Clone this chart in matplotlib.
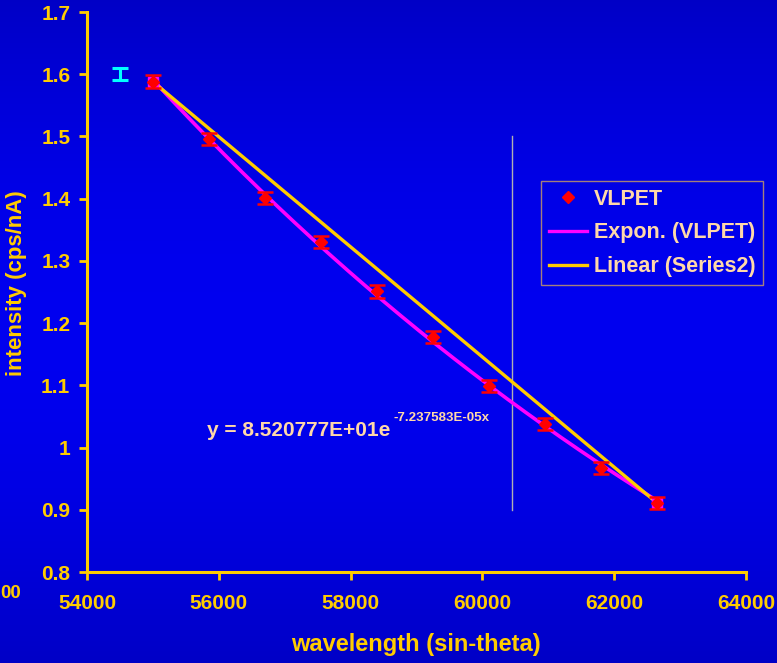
import numpy as np
import matplotlib
matplotlib.use("Agg")
import matplotlib.pyplot as plt
from matplotlib.lines import Line2D

plt.rcParams['font.family'] = ['Liberation Sans', 'DejaVu Sans']
plt.rcParams['font.weight'] = 'bold'

# ---- data ----
wavelength = [55000, 55850, 56700, 57550, 58400, 59250, 60100, 60950, 61800, 62650]
intensity = [1.588, 1.496, 1.401, 1.330, 1.251, 1.178, 1.099, 1.038, 0.967, 0.911]
intensity_err = [0.01] * 10

series2_x = [55000, 62650]
series2_y = [1.588, 0.911]

series3_x = [54500]
series3_y = [1.600]
series3_err = [0.01]

exp_a = 85.20777
exp_b = -7.237583e-05

vline_x = 60450
vline_y = [0.9, 1.5]

xticks = [54000, 56000, 58000, 60000, 62000, 64000]
yticks = [0.8, 0.9, 1.0, 1.1, 1.2, 1.3, 1.4, 1.5, 1.6, 1.7]

GOLD = '#FFCC00'
PEACH = '#FFD8A8'
MAGENTA = '#FF00FF'
RED = '#FF0000'

fig = plt.figure(figsize=(7.77, 6.63), dpi=100)

# background gradient
bg = fig.add_axes([0, 0, 1, 1], zorder=-10)
t = np.linspace(0, 1, 300)
b = 0.78 + 0.16 * np.sin(np.pi * t)
img = np.zeros((300, 2, 3))
img[:, :, 2] = b[:, None]
bg.imshow(img, aspect='auto', extent=[0, 1, 0, 1])
bg.axis('off')

ax = fig.add_axes([87/777, 1 - 572/663, (746 - 87)/777, (572 - 12)/663])
ax.set_facecolor('none')

# exponential trendline
xs = np.linspace(wavelength[0], wavelength[-1], 200)
ax.plot(xs, exp_a * np.exp(exp_b * xs), color=MAGENTA, lw=2.6, zorder=3)
# linear trendline through series2
coef = np.polyfit(series2_x, series2_y, 1)
ax.plot(series2_x, np.polyval(coef, series2_x), color=GOLD, lw=2.4, zorder=4)

# series2 markers
ax.plot(series2_x, series2_y, linestyle='none', marker='s', ms=7, color=MAGENTA, zorder=5)

# data with error bars
ax.errorbar(wavelength, intensity, yerr=intensity_err, fmt='D', color=RED, ms=6,
            ecolor=RED, elinewidth=1.5, capsize=6, capthick=1.8, zorder=6)

# series3 error bar
ax.errorbar(series3_x, series3_y, yerr=series3_err, fmt='none', ecolor='#00FFFF',
            elinewidth=2.2, capsize=6, capthick=2.2, zorder=6)

# vertical line
ax.plot([vline_x, vline_x], vline_y, color='#B0B0B0', lw=1.0, zorder=2)

ax.set_xlim(54000, 64000)
ax.set_ylim(0.8, 1.7)
ax.set_xticks(xticks)
ax.set_yticks(yticks)
ax.set_xticklabels([str(v) for v in xticks])
ax.set_yticklabels(['%g' % v for v in yticks])

for s in ['top', 'right']:
    ax.spines[s].set_visible(False)
for s in ['left', 'bottom']:
    ax.spines[s].set_color(GOLD)
    ax.spines[s].set_linewidth(2.2)
ax.tick_params(colors=GOLD, labelsize=15, direction='out', length=6, width=2)
for lab in ax.get_xticklabels() + ax.get_yticklabels():
    lab.set_fontweight('bold')
ax.tick_params(axis='x', pad=10)
ax.tick_params(axis='y', pad=6)

# axis labels
fig.text(416/777, 1 - 645/663, 'wavelength (sin-theta)', color=GOLD, fontsize=17,
         fontweight='bold', ha='center', va='center')
fig.text(17/777, 1 - 283/663, 'intensity (cps/nA)', color=GOLD, fontsize=16,
         fontweight='bold', ha='center', va='center', rotation=90)

# equation
fig.text(207/777, 1 - 430/663, 'y = 8.520777E+01e', color=PEACH, fontsize=15,
         fontweight='bold', va='center', ha='left')
fig.text(394/777, 1 - 418/663, '-7.237583E-05x', color=PEACH, fontsize=9.6,
         fontweight='bold', va='center', ha='left')

# small leftover label at the left edge
fig.text(0.5/777, 1 - 594/663, '00', color=GOLD, fontsize=13.5, fontweight='bold',
         va='center', ha='left')

# legend
handles = [
    Line2D([], [], linestyle='none', marker='D', color=RED, ms=6),
    Line2D([], [], color=MAGENTA, lw=2.4),
    Line2D([], [], color=GOLD, lw=2.4),
]
labels = ['VLPET', 'Expon. (VLPET)', 'Linear (Series2)']
leg = ax.legend(handles, labels, loc='upper left', bbox_to_anchor=((541 - 87)/659, 1 - (181 - 12)/560),
                frameon=True, fancybox=False, fontsize=15.5, handlelength=1.8,
                handletextpad=0.3, borderpad=0.35, labelspacing=0.6, borderaxespad=0)
leg.get_frame().set_facecolor('none')
leg.get_frame().set_edgecolor('#D0A060')
leg.get_frame().set_linewidth(1.0)
for txt in leg.get_texts():
    txt.set_color(PEACH)
    txt.set_fontweight('bold')

fig.savefig('out.png', dpi=100, facecolor='#0000D8')
